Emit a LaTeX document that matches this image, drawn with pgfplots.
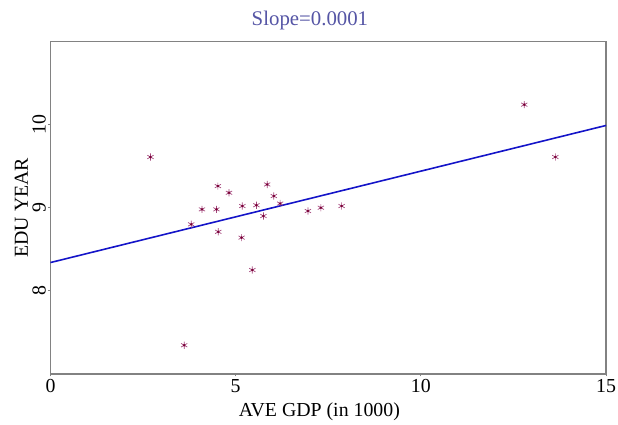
\documentclass[border=0pt]{standalone}
\usepackage{pgfplots}
\pgfplotsset{compat=1.18}
\usepackage{fontspec}
\setmainfont{Liberation Serif}
\definecolor{axgray}{RGB}{130,130,130}
\definecolor{ptcol}{RGB}{165,70,125}
\definecolor{ptdark}{RGB}{120,0,50}
\definecolor{linecol}{RGB}{20,20,200}
\definecolor{titlecol}{RGB}{85,85,165}
\begin{document}
\begin{tikzpicture}
\begin{axis}[
  scale only axis,
  width=558.3bp, height=334bp,
  xmin=0, xmax=15, ymin=7, ymax=11,
  xtick={0,5,10,15}, ytick={8,9,10},
  tick pos=left, tick align=outside,
  major tick length=2.5bp,
  axis line style={axgray, line width=1.4bp},
  tick style={axgray, line width=1bp},
  every tick label/.append style={font=\fontsize{20}{22}\selectfont},
  /pgf/number format/assume math mode=true,
  yticklabel style={rotate=90, anchor=south, inner sep=2bp, xshift=0bp},
  xticklabel style={inner sep=2bp, yshift=-1bp},
  xlabel={AVE GDP (in 1000)},
  ylabel={EDU YEAR},
  label style={font=\fontsize{20}{22}\selectfont},
  xlabel style={at={(axis description cs:0.484,0)}, anchor=north, yshift=-25bp},
  ylabel style={at={(axis description cs:0,0.5)}, anchor=south, yshift=19bp},
  title={Slope=0.0001},
  title style={font=\fontsize{21}{24}\selectfont, text=titlecol, at={(axis description cs:0.467,1)}, anchor=south, yshift=2bp},
  clip=false,
]
\addplot[linecol, line width=1.6bp] coordinates {(0,8.34) (15,9.99)};
\addplot[only marks, mark=asterisk, mark size=3.6bp, mark options={ptcol, line width=0.7bp}] coordinates {
(2.70,9.61) (3.61,7.345) (3.80,8.80) (4.09,8.98) (4.48,8.98) (4.52,9.26)
(4.53,8.71) (4.82,9.18) (5.16,8.64) (5.18,9.02) (5.45,8.25) (5.56,9.03)
(5.75,8.90) (5.85,9.28) (6.03,9.14) (6.20,9.05) (6.95,8.96) (7.30,9.00)
(7.86,9.02) (12.79,10.24) (13.63,9.61)
};
\addplot[only marks, mark=*, mark size=1bp, mark options={ptdark, draw=ptdark}] coordinates {
(2.70,9.61) (3.61,7.345) (3.80,8.80) (4.09,8.98) (4.48,8.98) (4.52,9.26)
(4.53,8.71) (4.82,9.18) (5.16,8.64) (5.18,9.02) (5.45,8.25) (5.56,9.03)
(5.75,8.90) (5.85,9.28) (6.03,9.14) (6.20,9.05) (6.95,8.96) (7.30,9.00)
(7.86,9.02) (12.79,10.24) (13.63,9.61)
};
\end{axis}
\path[use as bounding box] (-50.7bp,-51.3bp) rectangle (567.3bp,375.7bp);
\end{tikzpicture}
\end{document}
